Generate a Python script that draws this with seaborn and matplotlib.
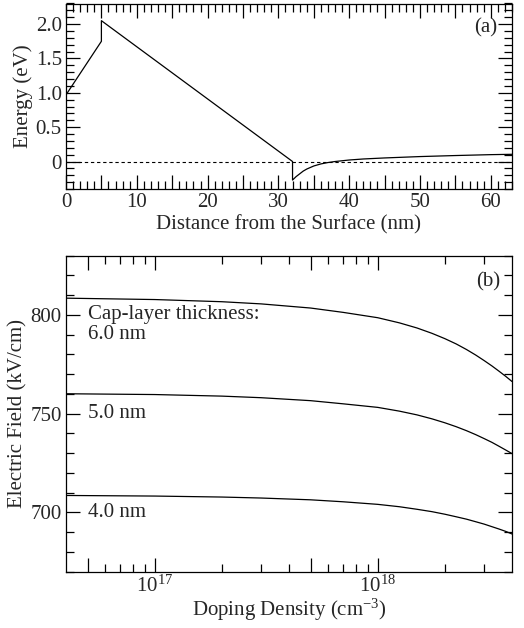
import numpy as np
import pandas as pd
import matplotlib
matplotlib.use("Agg")
import matplotlib.pyplot as plt
import matplotlib.ticker as mticker
import seaborn as sns

# ---------------- data: panel (a) band profile ----------------
distance_nm = [0, 5, 5, 32, 32, 32.5, 33, 33.5, 34, 35, 36, 37, 38, 40, 42, 45, 50, 55, 60, 63]
energy_ev = [0.97, 1.75, 2.05, 0.0, -0.27, -0.22, -0.18, -0.14, -0.11, -0.065, -0.035,
             -0.015, 0.0, 0.022, 0.037, 0.052, 0.072, 0.087, 0.100, 0.105]

# ---------------- data: panel (b) electric field vs doping ----------------
doping = [4e16, 1e17, 2e17, 3e17, 5e17, 7e17, 1e18, 1.25e18, 1.5e18, 1.75e18, 2e18,
          2.25e18, 2.5e18, 2.75e18, 3e18, 3.25e18, 3.5e18, 3.75e18, 4e18]
field_6nm = [808.5, 807.8, 806.7, 805.6, 803.5, 801.3, 798.6, 796.0, 793.4, 790.7, 788.0,
             785.3, 782.5, 779.7, 776.9, 774.2, 771.5, 768.9, 766.3]
field_5nm = [760.1, 759.7, 758.9, 758.1, 756.6, 755.0, 753.2, 751.3, 749.4, 747.4, 745.4,
             743.4, 741.4, 739.4, 737.4, 735.5, 733.5, 731.6, 729.8]
field_4nm = [708.6, 708.3, 707.8, 707.3, 706.4, 705.4, 704.1, 702.9, 701.6, 700.4, 699.1,
             697.8, 696.6, 695.3, 694.1, 692.8, 691.6, 690.4, 689.1]
thickness_labels = ["6.0 nm", "5.0 nm", "4.0 nm"]

sns.set_theme(style="ticks")
plt.rcParams["font.family"] = ["Liberation Serif", "DejaVu Serif"]
plt.rcParams["mathtext.fontset"] = "custom"
plt.rcParams["mathtext.rm"] = "Liberation Serif"
plt.rcParams["mathtext.it"] = "Liberation Serif:italic"
plt.rcParams["axes.edgecolor"] = "black"
plt.rcParams["axes.linewidth"] = 0.9

FS = 15
fig = plt.figure(figsize=(5.24, 6.28), dpi=100)
axa = fig.add_axes([66 / 524, 1 - 189 / 628, 446 / 524, 185.5 / 628])
axb = fig.add_axes([66 / 524, 1 - 571.7 / 628, 446 / 524, 316 / 628])

# ---- panel (a)
dfa = pd.DataFrame({"x": distance_nm, "E": energy_ev})
sns.lineplot(data=dfa, x="x", y="E", ax=axa, sort=False, estimator=None,
             color="black", lw=0.9)
axa.axhline(0, color="black", lw=0.8, ls=(0, (3, 2.5)))
axa.set_xlim(0, 63)
axa.set_ylim(-0.4, 2.3)
axa.xaxis.set_major_locator(mticker.MultipleLocator(5))
axa.xaxis.set_minor_locator(mticker.MultipleLocator(1))
axa.xaxis.set_major_formatter(mticker.FuncFormatter(
    lambda v, p: f"{int(round(v))}" if round(v) % 10 == 0 else ""))
axa.yaxis.set_major_locator(mticker.MultipleLocator(0.5))
axa.yaxis.set_minor_locator(mticker.MultipleLocator(0.1))
axa.yaxis.set_major_formatter(mticker.FuncFormatter(
    lambda v, p: "0" if abs(v) < 1e-9 else f"{v:.1f}"))
axa.set_xlabel("Distance from the Surface (nm)", fontsize=FS, labelpad=2)
axa.set_ylabel("Energy (eV)", fontsize=FS, labelpad=2)
axa.text(60.9, 1.95, "(a)", ha="right", va="center", fontsize=FS)

# ---- panel (b)
dfb = pd.DataFrame({
    "doping": doping * 3,
    "field": field_6nm + field_5nm + field_4nm,
    "cap": sum([[t] * len(doping) for t in thickness_labels], []),
})
sns.lineplot(data=dfb, x="doping", y="field", units="cap", estimator=None,
             ax=axb, color="black", lw=0.9)
axb.set_xscale("log")
axb.set_xlim(4e16, 4e18)
axb.set_ylim(670, 830)
axb.xaxis.set_major_locator(mticker.FixedLocator([5e16, 1e17, 5e17, 1e18]))
axb.xaxis.set_minor_locator(mticker.FixedLocator(
    [6e16, 7e16, 8e16, 9e16, 2e17, 3e17, 4e17, 6e17, 7e17, 8e17, 9e17, 2e18, 3e18]))
axb.xaxis.set_major_formatter(mticker.FuncFormatter(
    lambda v, p: f"$10^{{{int(round(np.log10(v)))}}}$" if abs(np.log10(v) - round(np.log10(v))) < 1e-6 else ""))
axb.xaxis.set_minor_formatter(mticker.NullFormatter())
axb.yaxis.set_major_locator(mticker.MultipleLocator(50))
axb.yaxis.set_minor_locator(mticker.MultipleLocator(10))
axb.set_xlabel("Doping Density (cm$^{-3}$)", fontsize=FS, labelpad=0)
axb.set_ylabel("Electric Field (kV/cm)", fontsize=FS, labelpad=2)
axb.text(5e16, 800, "Cap-layer thickness:", ha="left", va="center", fontsize=FS)
axb.text(5e16, 790, thickness_labels[0], ha="left", va="center", fontsize=FS)
axb.text(5e16, 750, thickness_labels[1], ha="left", va="center", fontsize=FS)
axb.text(5e16, 700, thickness_labels[2], ha="left", va="center", fontsize=FS)
axb.text(3.55e18, 817, "(b)", ha="right", va="center", fontsize=FS)

for ax in (axa, axb):
    ax.tick_params(which="both", direction="in", top=True, right=True,
                   labelsize=FS, color="black", width=0.9, pad=3)
    ax.tick_params(which="major", length=10)
    ax.tick_params(which="minor", length=5.5)
    for s in ax.spines.values():
        s.set_visible(True)
        s.set_color("black")
    ax.set_facecolor("white")
    if ax.get_legend() is not None:
        ax.get_legend().remove()

fig.savefig("out.png", dpi=100, facecolor="white")
